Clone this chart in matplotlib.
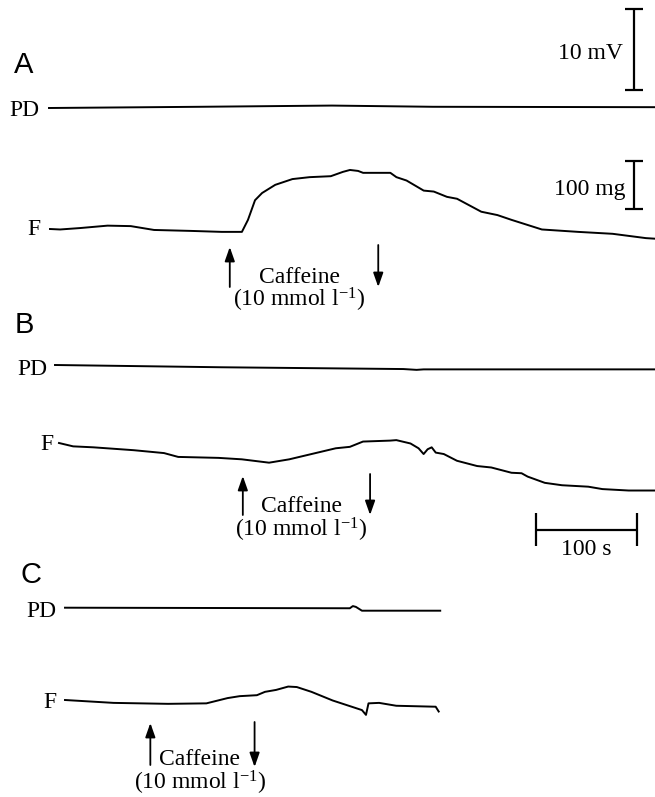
import matplotlib
matplotlib.use("Agg")
import matplotlib.pyplot as plt
from matplotlib.transforms import Affine2D

plt.rcParams["mathtext.fontset"] = "custom"
plt.rcParams["mathtext.rm"] = "Liberation Serif"
plt.rcParams["mathtext.it"] = "Liberation Serif:italic"

# ---------------------------------------------------------------
# data (time in s from trace start,
# force in mg, potential difference in mV, relative to start)
# ---------------------------------------------------------------
a_f_time = [0, 10, 30, 57, 80, 103, 140, 170, 190, 196, 203, 210, 223, 240,
            257, 278, 290, 297, 305, 310, 337, 343, 353, 370, 380, 393, 403,
            427, 443, 457, 487, 523, 557, 590, 605]
a_f_mg = [0, -1, 2, 7, 6, -2, -4, -6, -6, 19, 60, 75, 92, 104,
          108, 110, 119, 123, 121, 117, 117, 108, 101, 80, 78, 67, 63,
          36, 29, 19, -1, -6, -10, -19, -21]
a_pd_time = [0, 150, 280, 380, 606]
a_pd_mv = [0, 0.15, 0.3, 0.15, 0.1]

b_f_time = [0, 14, 34, 74, 104, 118, 158, 181, 208, 228, 254, 274, 288, 301,
            328, 334, 348, 356, 361, 365, 369, 373, 381, 394, 414, 428, 448,
            458, 464, 481, 498, 524, 538, 564, 596]
b_f_mg = [0, -7, -9, -15, -21, -29, -31, -34, -41, -34, -21, -11, -8, 3,
          5, 6, -1, -11, -23, -13, -9, -20, -23, -37, -48, -51, -62,
          -63, -70, -83, -88, -91, -96, -99, -99]
b_pd_time = [0, 165, 345, 358, 365, 600]
b_pd_mv = [0, -0.28, -0.5, -0.6, -0.54, -0.54]

c_f_time = [0, 48, 102, 140, 161, 173, 190, 198, 209, 221, 229.5, 244, 265,
            294, 298, 300.5, 311, 328, 367, 370]
c_f_mg = [0, -6, -8, -7, 4, 8, 10, 17, 21, 28, 27, 17, -1,
          -21, -31, -7, -6, -12, -14, -24]
c_pd_time = [0, 282, 285, 288, 294, 371.5]
c_pd_mv = [0, -0.07, 0.2, 0.1, -0.37, -0.37]

caffeine_on = {"A": 178, "B": 182, "C": 84.5}
caffeine_off = {"A": 325, "B": 308, "C": 187.7}

panels = ["A", "B", "C"]
force = {"A": (a_f_time, a_f_mg), "B": (b_f_time, b_f_mg), "C": (c_f_time, c_f_mg)}
pd = {"A": (a_pd_time, a_pd_mv), "B": (b_pd_time, b_pd_mv), "C": (c_pd_time, c_pd_mv)}

# scales of the original figure (pixels per unit)
PX_PER_S = 1.01
PX_PER_MG = 0.48
PX_PER_MV = 8.1

# ---------------------------------------------------------------
# layout (pixel positions in a 655 x 797 canvas)
# ---------------------------------------------------------------
layout = {
    "A": dict(letter=(14, 73), f0=(50, 229), pd0=(49, 108),
              pd_lab=(39, 115.5), f_lab=(40, 235),
              up=(247, 287), down=(245, 287), caff=(299, 283, 307)),
    "B": dict(letter=(15, 333), f0=(59, 443), pd0=(55, 365),
              pd_lab=(47, 375), f_lab=(53, 450),
              up=(476, 515), down=(474, 515), caff=(301, 512, 537)),
    "C": dict(letter=(21, 583), f0=(65, 700), pd0=(65, 607.7),
              pd_lab=(56, 617), f_lab=(56, 708),
              up=(723, 765), down=(722, 767), caff=(200, 765, 790)),
}

serif = ["Liberation Serif", "DejaVu Serif"]
sans = ["Liberation Sans", "DejaVu Sans"]
FS = 17

fig = plt.figure(figsize=(6.55, 7.97), dpi=100, facecolor="white")
ax = fig.add_axes([0, 0, 1, 1])
ax.set_xlim(0, 655)
ax.set_ylim(797, 0)
ax.axis("off")


def trace_transform(x0, y0, k):
    return Affine2D().scale(PX_PER_S, -k).translate(x0, y0) + ax.transData


arrow_kw = dict(arrowstyle="-|>,head_length=0.85,head_width=0.3",
                lw=1.3, color="black", shrinkA=0, shrinkB=0, mutation_scale=10)

for p in panels:
    L = layout[p]
    ax.text(*L["letter"], p, family=sans, fontsize=21, ha="left", va="baseline")

    t, mv = pd[p]
    ax.plot(t, mv, color="black", lw=1.4,
            transform=trace_transform(*L["pd0"], PX_PER_MV))
    ax.text(*L["pd_lab"], "PD", family=serif, fontsize=FS, ha="right", va="baseline")

    t, mg = force[p]
    ax.plot(t, mg, color="black", lw=1.4,
            transform=trace_transform(*L["f0"], PX_PER_MG))
    ax.text(*L["f_lab"], "F", family=serif, fontsize=FS, ha="right", va="baseline")

    # caffeine application / washout arrows
    x_on = L["f0"][0] + caffeine_on[p] * PX_PER_S
    x_off = L["f0"][0] + caffeine_off[p] * PX_PER_S
    ax.annotate("", xy=(x_on, L["up"][0]), xytext=(x_on, L["up"][1]), arrowprops=arrow_kw)
    ax.annotate("", xy=(x_off, L["down"][1]), xytext=(x_off, L["down"][0]), arrowprops=arrow_kw)

    cx, y1, y2 = L["caff"]
    ax.text(cx, y1, "Caffeine", family=serif, fontsize=FS, ha="center", va="baseline")
    ax.text(cx, y2, "(10 mmol l$^{-1}$)", family=serif, fontsize=FS,
            ha="center", va="baseline")

# ---------------------------------------------------------------
# calibration bars
# ---------------------------------------------------------------
bar_kw = dict(color="black", lw=1.6, solid_capstyle="butt")
cap = 9

# 10 mV
xb, yb = 634, 90
ytop = yb - 10 * PX_PER_MV
ax.plot([xb, xb], [yb, ytop], **bar_kw)
ax.plot([xb - cap, xb + cap], [yb, yb], **bar_kw)
ax.plot([xb - cap, xb + cap], [ytop, ytop], **bar_kw)
ax.text(623, 59, "10 mV", family=serif, fontsize=FS, ha="right", va="baseline")

# 100 mg
xb, yb = 634, 209
ytop = yb - 100 * PX_PER_MG
ax.plot([xb, xb], [yb, ytop], **bar_kw)
ax.plot([xb - cap, xb + cap], [yb, yb], **bar_kw)
ax.plot([xb - cap, xb + cap], [ytop, ytop], **bar_kw)
ax.text(625, 195, "100 mg", family=serif, fontsize=FS, ha="right", va="baseline")

# 100 s
xl, yt = 536, 530
xr = xl + 100 * PX_PER_S
ax.plot([xl, xr], [yt, yt], **bar_kw)
ax.plot([xl, xl], [yt - 17, yt + 16], **bar_kw)
ax.plot([xr, xr], [yt - 17, yt + 16], **bar_kw)
ax.text((xl + xr) / 2, 555, "100 s", family=serif, fontsize=FS, ha="center", va="baseline")

fig.savefig("out.png", dpi=100, facecolor="white")
